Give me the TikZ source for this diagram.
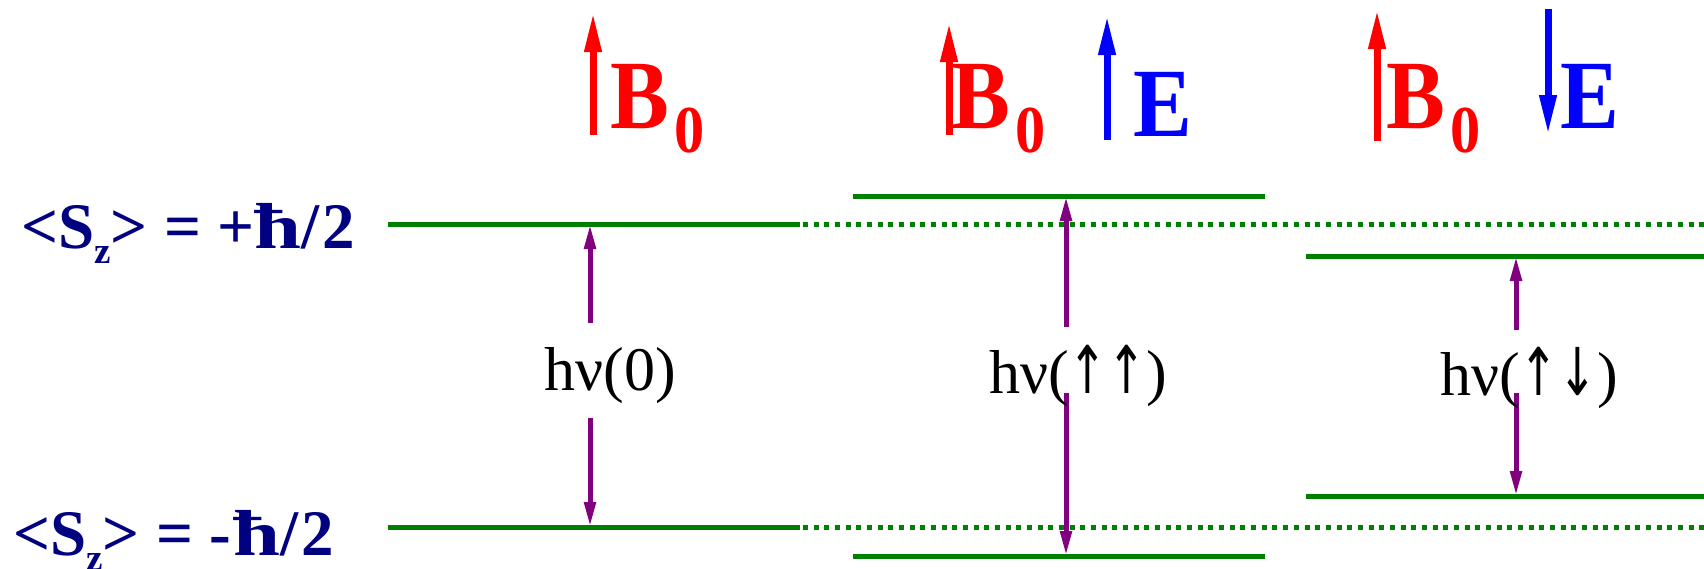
\documentclass[tikz,border=0pt]{standalone}
\usepackage{fontspec}
\setmainfont{Liberation Serif}
\newfontfamily\arrowfont{DejaVu Sans}
\newcommand{\myup}{{\arrowfont\fontsize{66}{70}\selectfont\scalebox{0.7}[1]{↑}}}
\newcommand{\mydown}{{\arrowfont\fontsize{66}{70}\selectfont\scalebox{0.7}[1]{↓}}}
\newcommand{\hbarw}{\scalebox{1.3}[1]{ħ}}
\usetikzlibrary{arrows.meta}
\definecolor{lvlgreen}{RGB}{0,128,0}
\definecolor{trpurple}{RGB}{128,0,128}
\definecolor{lblnavy}{RGB}{0,0,128}
\begin{document}
\begin{tikzpicture}[x=1pt,y=-1pt,
  level/.style={draw=lvlgreen,line width=5pt},
  ghost/.style={draw=lvlgreen,line width=5pt,dash pattern=on 5pt off 5.67pt},
  trans/.style={draw=trpurple,line width=5pt,-{Triangle[length=25pt,width=11pt]}},
  field/.style={line width=7pt,-{Triangle[length=40pt,width=16pt]}},
  txt/.style={inner sep=0pt,anchor=base west},
  hv/.style={inner sep=0pt,anchor=base,font=\fontsize{62}{70}\selectfont},
  bigl/.style={txt,font=\fontsize{98}{100}\selectfont\bfseries},
  sz/.style={txt,text=lblnavy,font=\fontsize{65}{70}\selectfont\bfseries}]

\fill[white] (0,0) rectangle (1704,568);
\useasboundingbox (0,0) rectangle (1704,568);

% spin labels
\node[sz] (lup) at (21,248) {<S\raisebox{-15pt}{\fontsize{37}{40}\selectfont z}> = +\hbarw/\kern3pt2};
\node[sz] (ldn) at (13,555) {<S\raisebox{-15pt}{\fontsize{37}{40}\selectfont z}> = -\kern2pt\hbarw/\kern3pt2};

% level coordinates
\coordinate (L1a) at (388,224);  \coordinate (L1b) at (800,224);
\coordinate (L2a) at (388,527);  \coordinate (L2b) at (800,527);
\coordinate (M1a) at (853,196);  \coordinate (M1b) at (1265,196);
\coordinate (M2a) at (853,556);  \coordinate (M2b) at (1265,556);
\coordinate (R1a) at (1306,256); \coordinate (R1b) at (1704,256);
\coordinate (R2a) at (1306,496); \coordinate (R2b) at (1704,496);
\coordinate (D1a) at (803,224);  \coordinate (D1b) at (1704,224);
\coordinate (D2a) at (803,527);  \coordinate (D2b) at (1704,527);

\draw[ghost] (D1a) -- (D1b);
\draw[ghost] (D2a) -- (D2b);
\draw[level] (L1a) -- (L1b);
\draw[level] (L2a) -- (L2b);
\draw[level] (M1a) -- (M1b);
\draw[level] (M2a) -- (M2b);
\draw[level] (R1a) -- (R1b);
\draw[level] (R2a) -- (R2b);

% transition arrows
\coordinate (T1) at (590,224);  \coordinate (T1g) at (590,323);
\coordinate (B1) at (590,527);  \coordinate (B1g) at (590,418);
\coordinate (T2) at (1066,196); \coordinate (T2g) at (1066,327);
\coordinate (B2) at (1066,556); \coordinate (B2g) at (1066,393);
\coordinate (T3) at (1516,256); \coordinate (T3g) at (1516,330);
\coordinate (B3) at (1516,496); \coordinate (B3g) at (1516,393);

\draw[trans] (T1g) -- (T1);
\draw[trans] (B1g) -- (B1);
\draw[trans] (T2g) -- (T2);
\draw[trans] (B2g) -- (B2);
\draw[trans] (T3g) -- (T3);
\draw[trans] (B3g) -- (B3);

\node[hv] (hv1) at (610,390) {hν(0)};
\node[hv] (hv2) at (1078,393) {hν(\myup\myup)};
\node[hv] (hv3) at (1529,395) {hν(\myup\mydown)};

% field arrows
\coordinate (f1s) at (593,135);  \coordinate (f1e) at (593,12);
\coordinate (f2s) at (949,135);  \coordinate (f2e) at (949,22);
\coordinate (f3s) at (1107,140); \coordinate (f3e) at (1107,15);
\coordinate (f4s) at (1377,141); \coordinate (f4e) at (1377,9);
\coordinate (f5s) at (1548,9);   \coordinate (f5e) at (1548,135);
\draw[field,red] (f1s) -- (f1e);
\draw[field,red] (f2s) -- (f2e);
\draw[field,blue] (f3s) -- (f3e);
\draw[field,red] (f4s) -- (f4e);
\draw[field,blue] (f5s) -- (f5e);

% field labels
\node[bigl,text=red] (b1) at (610.5,128) {\scalebox{0.9}[1]{B\kern6pt\raisebox{-24pt}{\fontsize{67}{70}\selectfont 0}}};
\node[bigl,text=red] (b2) at (951.5,128) {\scalebox{0.9}[1]{B\kern6pt\raisebox{-24pt}{\fontsize{67}{70}\selectfont 0}}};
\node[bigl,text=red] (b3) at (1386.5,128) {\scalebox{0.9}[1]{B\kern6pt\raisebox{-24pt}{\fontsize{67}{70}\selectfont 0}}};
\node[bigl,text=blue] (e2) at (1133.5,136) {\scalebox{0.9}[1]{E}};
\node[bigl,text=blue] (e3) at (1560.5,128) {\scalebox{0.9}[1]{E}};
\end{tikzpicture}
\end{document}
